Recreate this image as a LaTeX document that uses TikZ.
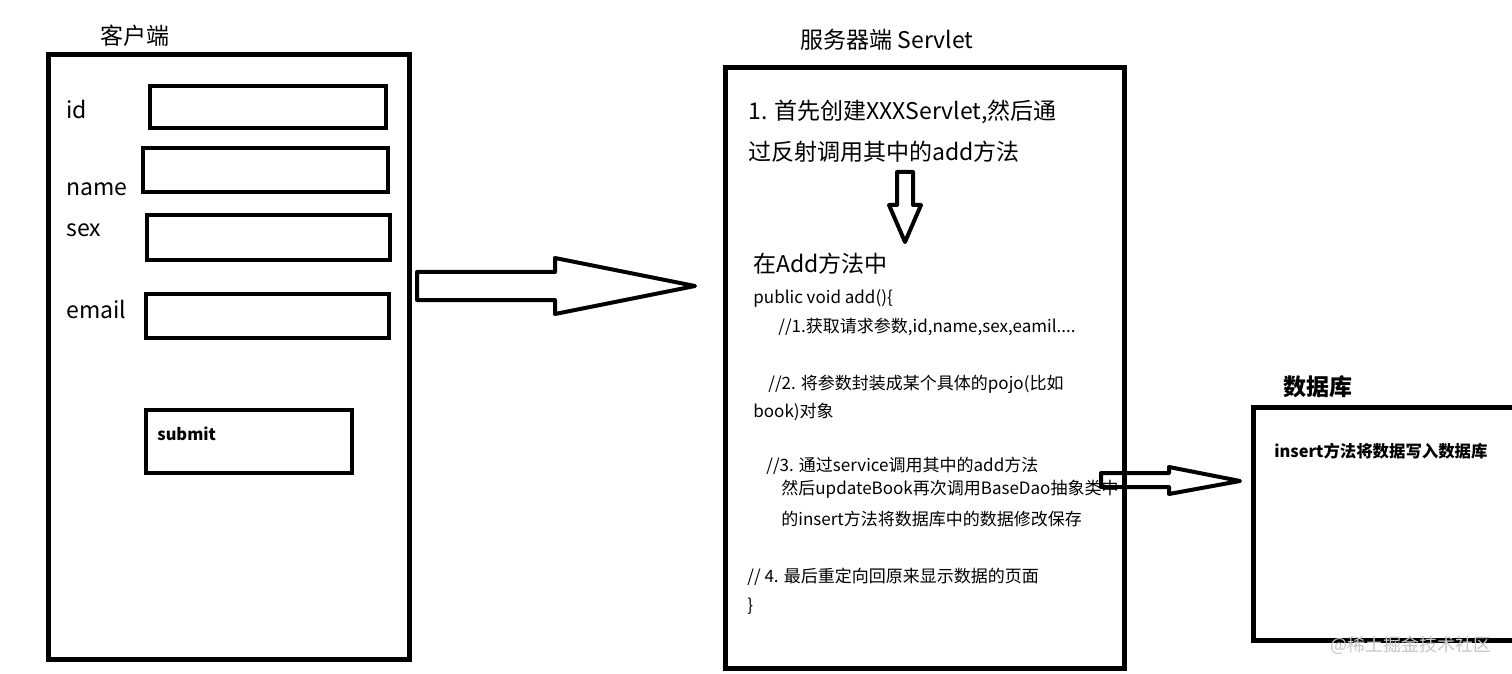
\documentclass[tikz,border=0pt]{standalone}
\usepackage{fontspec}
\setmainfont{Noto Sans CJK SC}
\usetikzlibrary{positioning}

\begin{document}
\begin{tikzpicture}[x=0.5pt, y=-0.5pt,
      frame/.style={draw, line width=2.4pt, anchor=north west, inner sep=0pt},
      field/.style={draw, line width=2pt, anchor=north west, inner sep=0pt},
      lbl/.style={anchor=west, inner sep=0pt, font=\fontsize{11.5}{13}\selectfont},
      code/.style={anchor=west, inner sep=0pt, font=\fontsize{8.5}{10}\selectfont},
      blockarrow/.style={draw, line width=2pt, line join=round}]
      \useasboundingbox (0,0) rectangle (1512,674);
      % client side
      \node[lbl] (clienttitle) at (100,36) {客户端};
      \node[frame, minimum width=180.5pt, minimum height=302.5pt] (client) at (46,52) {};
      \node[field, minimum width=118pt, minimum height=21pt] (idfield) at (148,84) {};
      \node[field, minimum width=122.5pt, minimum height=22pt] (namefield) at (141,146) {};
      \node[field, minimum width=121.5pt, minimum height=22.5pt] (sexfield) at (145,213) {};
      \node[field, minimum width=121.5pt, minimum height=22pt] (emailfield) at (144,292) {};
      \node[field, minimum width=103pt, minimum height=31.5pt] (submitbox) at (144,408) {};
      \node[lbl] (idlbl) at (66,109) {id};
      \node[lbl] (namelbl) at (66,189) {name};
      \node[lbl] (sexlbl) at (66,230) {sex};
      \node[lbl] (emaillbl) at (66,309) {email};
      \node[code, font=\fontsize{8.2}{10}\selectfont\bfseries] (submitlbl) at (157,434) {submit};
      % request arrow
      \draw[blockarrow] (417,272) -- (555,272) -- (555,258) -- (695,286) -- (555,314)
        -- (555,300) -- (417,300) -- cycle;
      % server side
      \node[lbl] (servertitle) at (800,40) {服务器端 Servlet};
      \node[frame, minimum width=199.5pt, minimum height=300.5pt] (server) at (723,65) {};
      \node[lbl] (step1a) at (748,112) {1. 首先创建XXXServlet,然后通};
      \node[lbl] (step1b) at (748,152) {过反射调用其中的add方法};
      \draw[blockarrow] (897,172) -- (913,172) -- (913,205) -- (921,205) -- (905,242)
        -- (889,205) -- (897,205) -- cycle;
      \node[lbl] (addtitle) at (753,264) {在Add方法中};
      \node[code] (sig) at (753,298) {public void add()\{};
      \node[code] (c1) at (778,327) {//1.获取请求参数,id,name,sex,eamil....};
      \node[code] (c2a) at (768,384) {//2. 将参数封装成某个具体的pojo(比如};
      \node[code] (c2b) at (753,412) {book)对象};
      \node[code] (c3a) at (766,466) {//3. 通过service调用其中的add方法};
      \node[code] (c3b) at (781,489) {然后updateBook再次调用BaseDao抽象类中};
      \node[code] (c3c) at (781,519) {的insert方法将数据库中的数据修改保存};
      \node[code] (c4) at (747,577) {// 4. 最后重定向回原来显示数据的页面};
      \node[code] (brace) at (747,606) {\}};
      % insert arrow
      \draw[blockarrow] (1101,473) -- (1169,473) -- (1169,467) -- (1240,481) -- (1169,494)
        -- (1169,487) -- (1101,487) -- cycle;
      % database
      \node[lbl, font=\fontsize{11.5}{13}\selectfont\bfseries] (dbtitle) at (1283,387) {数据库};
      \node[frame, minimum width=145.5pt, minimum height=116.5pt] (db) at (1251,405) {};
      \node[code, font=\fontsize{8.2}{10}\selectfont\bfseries] (dbtext) at (1274,451) {insert方法将数据写入数据库};
      \node[code, text=gray!45, font=\fontsize{9}{11}\selectfont] (mark) at (1330,645) {@稀土掘金技术社区};
    \end{tikzpicture}
\end{document}
